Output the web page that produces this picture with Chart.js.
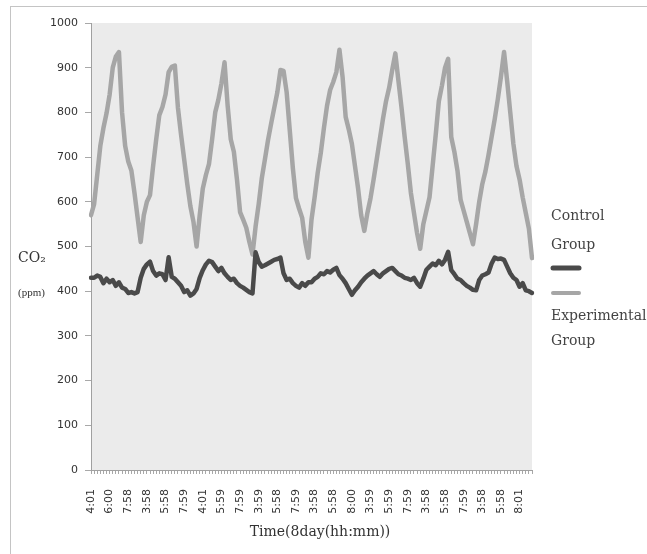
<!DOCTYPE html>
<html>
<head>
<meta charset="utf-8">
<script src="https://cdn.jsdelivr.net/npm/chart.js@4.4.0/dist/chart.umd.min.js"></script>
<style>
  body { margin: 0; background: #fff; }
  #wrap { width: 647px; height: 554px; }
</style>
</head>
<body>
<div id="wrap"><canvas id="co2Chart" width="647" height="554"></canvas></div>
<script>
// x labels, one every 6 readings (8 days, about 4:00 - 8:00 each day)
const tickLabels = ['4:01', '6:00', '7:58', '3:58', '5:58', '7:59', '4:01', '5:59', '7:59', '3:59', '5:58', '7:59',
    '3:58', '5:58', '8:00', '3:59', '5:59', '7:59', '3:58', '5:58', '7:59', '3:58', '5:58', '8:01'];
const pointsPerTick = 6;

// CO2 (ppm) readings
const controlGroup = [
    430, 430, 435, 432, 418, 428, 420, 425, 412, 420, 408, 405, 396, 398, 395, 398, 430, 450,
    460, 466, 445, 435, 440, 438, 425, 476, 432, 428, 420, 412, 398, 402, 390, 395, 405, 430,
    447, 460, 468, 465, 455, 445, 452, 440, 432, 425, 428, 418, 412, 408, 403, 398, 395, 487,
    465, 455, 458, 462, 466, 470, 472, 475, 440, 425, 428, 418, 412, 408, 418, 412, 420, 420,
    428, 432, 440, 438, 445, 442, 448, 452, 436, 428, 418, 405, 392, 402, 410, 420, 428, 435,
    440, 445, 438, 432, 440, 445, 450, 452, 445, 438, 435, 430, 428, 425, 430, 418, 410, 428,
    448, 455, 462, 458, 468, 460, 470, 488, 447, 438, 428, 425, 418, 412, 408, 403, 402, 425,
    435, 438, 442, 462, 475, 472, 473, 470, 455, 440, 430, 425, 410, 418, 402, 400, 396
];
const experimentalGroup = [
    570, 595, 660, 725, 765, 798, 840, 900, 925, 935, 800, 725, 690, 670, 620, 565, 510, 570,
    600, 615, 680, 740, 794, 812, 840, 890, 902, 905, 810, 750, 695, 640, 590, 555, 500, 570,
    630, 660, 685, 740, 800, 828, 865, 912, 815, 740, 712, 650, 577, 560, 542, 510, 482, 545,
    595, 653, 695, 738, 775, 810, 845, 895, 893, 845, 760, 675, 608, 585, 564, 510, 475, 560,
    610, 665, 710, 765, 815, 850, 868, 890, 940, 880, 790, 762, 730, 680, 630, 570, 535, 575,
    608, 650, 695, 740, 785, 825, 855, 895, 932, 870, 810, 745, 685, 620, 575, 530, 495, 550,
    580, 610, 680, 750, 825, 860, 900, 920, 745, 712, 670, 605, 580, 555, 530, 505, 550, 600,
    640, 668, 705, 745, 785, 830, 880, 935, 870, 800, 730, 680, 650, 610, 575, 540, 474
];

const yMin = 0;
const yMax = 1000;
const yStep = 100;

// only every 6th reading carries a label, the rest just get a tick mark
const categories = controlGroup.map((v, i) => i % pointsPerTick === 0 ? tickLabels[i / pointsPerTick] : '');

// grey plot background and the thin frame round the picture
const backgroundPlugin = {
    id: 'background',
    beforeDraw(chart) {
        const ctx = chart.ctx;
        const area = chart.chartArea;
        ctx.save();
        ctx.fillStyle = '#ffffff';
        ctx.fillRect(0, 0, chart.width, chart.height);
        ctx.strokeStyle = '#c4c4c4';
        ctx.lineWidth = 1;
        ctx.strokeRect(10.5, 6.5, chart.width + 20, chart.height + 20);
        ctx.fillStyle = '#ebebeb';
        ctx.fillRect(area.left, area.top, area.right - area.left, area.bottom - area.top);
        ctx.restore();
    }
};

// axis titles and the stacked legend on the right
const textPlugin = {
    id: 'texts',
    afterDraw(chart) {
        const ctx = chart.ctx;
        ctx.save();
        ctx.textBaseline = 'middle';
        ctx.textAlign = 'left';
        ctx.fillStyle = '#333333';
        ctx.font = '14px "DejaVu Serif"';
        ctx.fillText('CO₂', 18, 258);
        ctx.font = '11px "Liberation Serif"';
        ctx.fillText('(ppm)', 18, 293);

        ctx.textAlign = 'center';
        ctx.font = '14px "DejaVu Serif"';
        ctx.fillText('Time(8day(hh:mm))', 320, 532);

        const ds = chart.data.datasets;
        const lx = 551;
        ctx.textAlign = 'left';
        ctx.fillStyle = '#444444';
        const ctrl = ds[0].label.split(' ');
        ctx.fillText(ctrl[0], lx, 216);
        ctx.fillText(ctrl[1], lx, 245);
        ctx.lineCap = 'round';
        ctx.strokeStyle = ds[0].borderColor;
        ctx.lineWidth = 5;
        ctx.beginPath();
        ctx.moveTo(lx + 2, 268);
        ctx.lineTo(lx + 28, 268);
        ctx.stroke();
        ctx.strokeStyle = ds[1].borderColor;
        ctx.lineWidth = 4;
        ctx.beginPath();
        ctx.moveTo(lx + 2, 293);
        ctx.lineTo(lx + 28, 293);
        ctx.stroke();
        const exp = ds[1].label.split(' ');
        ctx.fillText(exp[0], lx, 316);
        ctx.fillText(exp[1], lx, 341);
        ctx.restore();
    }
};

const ctx = document.getElementById('co2Chart').getContext('2d');
new Chart(ctx, {
    type: 'line',
    data: {
        labels: categories,
        datasets: [{
            label: 'Control Group',
            data: controlGroup,
            borderColor: '#4a4a4a',
            borderWidth: 4.5,
            pointRadius: 0,
            tension: 0,
            borderJoinStyle: 'round',
            borderCapStyle: 'round'
        }, {
            label: 'Experimental Group',
            data: experimentalGroup,
            borderColor: '#a6a6a6',
            borderWidth: 4.5,
            pointRadius: 0,
            tension: 0,
            borderJoinStyle: 'round',
            borderCapStyle: 'round'
        }]
    },
    options: {
        responsive: false,
        animation: false,
        layout: {
            padding: { top: 23, right: 115, bottom: 0, left: 0 }
        },
        plugins: {
            legend: { display: false },
            tooltip: { enabled: false }
        },
        scales: {
            x: {
                offset: false,
                grid: { drawOnChartArea: false, tickLength: 4, color: '#a8a8a8' },
                border: { color: '#a0a0a0' },
                ticks: {
                    autoSkip: false,
                    minRotation: 90,
                    maxRotation: 90,
                    padding: 15,
                    color: '#333333',
                    font: { family: 'DejaVu Sans', size: 11 }
                },
                afterFit(scale) { scale.height = 84; }
            },
            y: {
                min: yMin,
                max: yMax,
                grid: { drawOnChartArea: false, tickLength: 6, color: '#a8a8a8' },
                border: { color: '#a0a0a0' },
                ticks: {
                    stepSize: yStep,
                    padding: 7,
                    color: '#333333',
                    font: { family: 'DejaVu Sans', size: 11 },
                    callback: value => String(value)
                },
                afterFit(scale) { scale.width = 91; }
            }
        }
    },
    plugins: [backgroundPlugin, textPlugin]
});
</script>
</body>
</html>
